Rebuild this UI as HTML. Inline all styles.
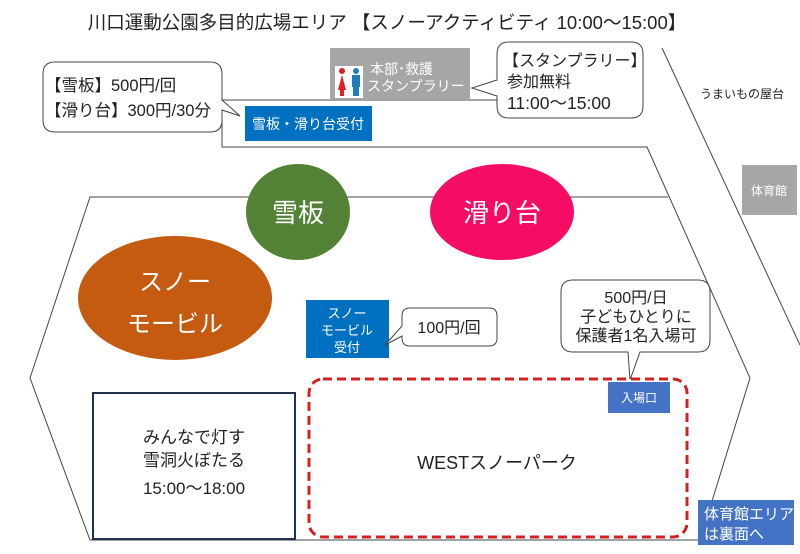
<!DOCTYPE html>
<html><head><meta charset="utf-8"><style>
body{margin:0;background:#fff;}
svg{display:block;font-family:"Liberation Sans","Noto Sans CJK JP",sans-serif;}
</style></head><body>
<svg width="800" height="554" viewBox="0 0 800 554" xmlns="http://www.w3.org/2000/svg">
<rect width="800" height="554" fill="#fff"/>
<text x="387" y="29" font-size="18.5" text-anchor="middle" fill="#222">川口運動公園多目的広場エリア 【スノーアクティビティ 10:00～15:00】</text>
<g stroke="#444" stroke-width="1" fill="none">
<polyline points="222,100 497,100"/>
<polyline points="222,100 222,147 647,147 750,378 700,540 90,540 30,378 90,197 668,197"/>
<line x1="662" y1="48" x2="800" y2="345"/>
</g>
<rect x="330" y="48" width="140" height="51" fill="#a6a6a6"/>
<rect x="335" y="66" width="28" height="32" fill="#fff"/>
<circle cx="342" cy="71" r="3" fill="#e02020"/><path d="M338 90 L342 75 L346 90 Z" fill="#e02020"/><rect x="340" y="88" width="4" height="8" fill="#e02020"/>
<circle cx="356" cy="71" r="3" fill="#1f7ac0"/><rect x="352" y="75" width="8" height="12" fill="#1f7ac0"/><rect x="353" y="86" width="6" height="10" fill="#1f7ac0"/>
<text x="370" y="74" font-size="14" fill="#fff">本部･救護</text>
<text x="367" y="91" font-size="14" fill="#fff">スタンプラリー</text>
<path d="M55 62 H210 Q222 62 222 74 V100 L240 116 L222 110 V120 Q222 132 210 132 H55 Q43 132 43 120 V74 Q43 62 55 62 Z" fill="#fff" stroke="#444"/>
<text x="45" y="91" font-size="16.5" fill="#222">【雪板】500円/回</text>
<text x="45" y="116" font-size="16.5" fill="#222">【滑り台】300円/30分</text>
<rect x="245" y="106" width="127" height="35" fill="#0070c0"/>
<text x="308" y="129" font-size="14" fill="#fff" text-anchor="middle">雪板・滑り台受付</text>
<path d="M509 42 H631 Q643 42 643 54 V106 Q643 118 631 118 H509 Q497 118 497 106 V96 L472 88 L497 80 V54 Q497 42 509 42 Z" fill="#fff" stroke="#444"/>
<text x="503" y="66" font-size="16" fill="#222">【スタンプラリー】</text>
<text x="507" y="87" font-size="16" fill="#222">参加無料</text>
<text x="507" y="109" font-size="17.5" fill="#222">11:00～15:00</text>
<text x="700" y="98" font-size="12" fill="#222">うまいもの屋台</text>
<rect x="742" y="165" width="55" height="50" fill="#a6a6a6"/>
<text x="769" y="195" font-size="12" fill="#fff" text-anchor="middle">体育館</text>
<ellipse cx="298" cy="212" rx="52" ry="48" fill="#538135"/>
<text x="298" y="222" font-size="26" fill="#fff" text-anchor="middle">雪板</text>
<ellipse cx="502" cy="212" rx="72" ry="48" fill="#f50c64"/>
<text x="502" y="222" font-size="26" fill="#fff" text-anchor="middle">滑り台</text>
<ellipse cx="175" cy="298" rx="97" ry="62" fill="#c55a11"/>
<text x="175" y="290" font-size="24" fill="#fff" text-anchor="middle">スノー</text>
<text x="175" y="332" font-size="24" fill="#fff" text-anchor="middle">モービル</text>
<rect x="306" y="300" width="83" height="58" fill="#0070c0"/>
<text x="347" y="318" font-size="13" fill="#fff" text-anchor="middle">スノー</text>
<text x="347" y="335" font-size="13" fill="#fff" text-anchor="middle">モービル</text>
<text x="347" y="352" font-size="13" fill="#fff" text-anchor="middle">受付</text>
<path d="M410 308 H489 Q497 308 497 316 V338 Q497 346 489 346 H410 Q402 346 402 338 V336 L385 345 L402 326 V316 Q402 308 410 308 Z" fill="#fff" stroke="#444"/>
<text x="449" y="333" font-size="16" fill="#222" text-anchor="middle">100円/回</text>
<path d="M573 280 H698 Q710 280 710 292 V340 Q710 352 698 352 H640 L630 380 L628 352 H573 Q561 352 561 340 V292 Q561 280 573 280 Z" fill="#fff" stroke="#444"/>
<text x="636" y="303" font-size="16" fill="#222" text-anchor="middle">500円/日</text>
<text x="636" y="322" font-size="16" fill="#222" text-anchor="middle">子どもひとりに</text>
<text x="636" y="341" font-size="16" fill="#222" text-anchor="middle">保護者1名入場可</text>
<rect x="93" y="393" width="202" height="146" fill="#fff" stroke="#1f3350" stroke-width="2"/>
<text x="194" y="443" font-size="17" fill="#222" text-anchor="middle">みんなで灯す</text>
<text x="194" y="466" font-size="17" fill="#222" text-anchor="middle">雪洞火ぼたる</text>
<text x="194" y="494" font-size="17" fill="#222" text-anchor="middle">15:00～18:00</text>
<rect x="309" y="379" width="378" height="158" rx="14" fill="#fff" stroke="#d42020" stroke-width="3" stroke-dasharray="9,5"/>
<text x="497" y="469" font-size="18" fill="#222" text-anchor="middle">WESTスノーパーク</text>
<rect x="608" y="382" width="62" height="31" fill="#4472c4"/>
<text x="639" y="402" font-size="12" fill="#fff" text-anchor="middle">入場口</text>
<rect x="698" y="500" width="96" height="45" fill="#4472c4"/>
<text x="704" y="519" font-size="15" fill="#fff">体育館エリア</text>
<text x="704" y="539" font-size="15" fill="#fff">は裏面へ</text>
</svg>
</body></html>
